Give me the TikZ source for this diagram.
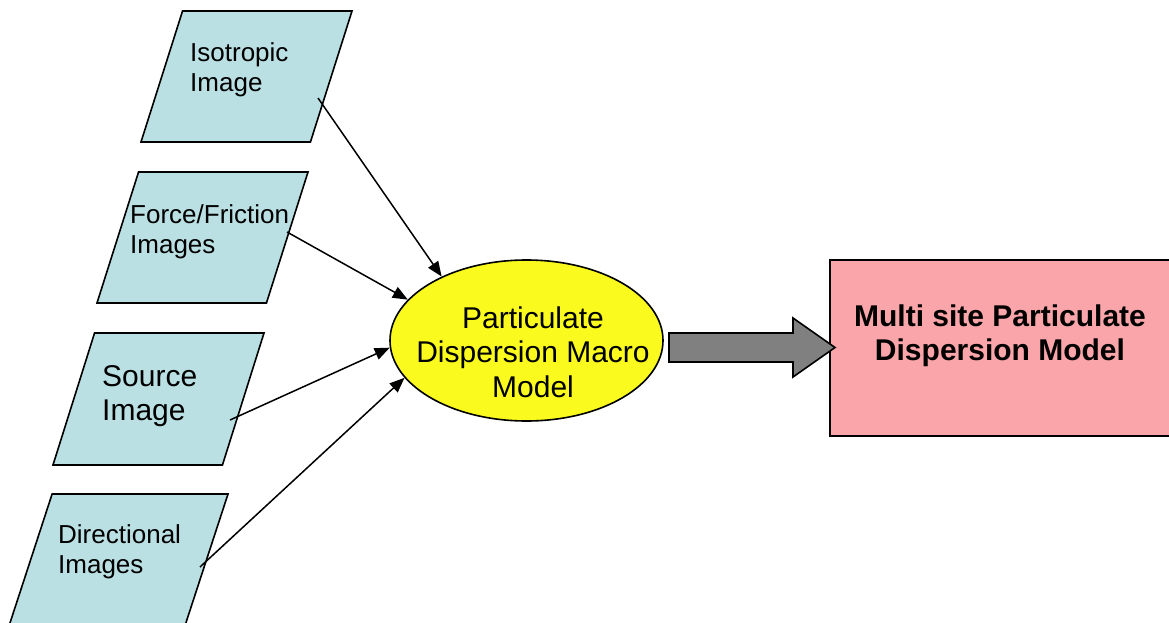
\documentclass[tikz,border=0pt]{standalone}
\usepackage{fontspec}
\setmainfont{Liberation Sans}
\usetikzlibrary{shapes.geometric,arrows.meta}
\definecolor{imgblue}{RGB}{186,224,227}
\definecolor{macroyellow}{RGB}{250,250,30}
\definecolor{modelpink}{RGB}{250,165,170}
\definecolor{flowgray}{RGB}{128,128,128}
\begin{document}
\begin{tikzpicture}[x=1pt,y=-1pt,
    input/.style={trapezium,trapezium left angle=72,trapezium right angle=108,
      trapezium stretches=true,draw,line width=1.6pt,fill=imgblue,inner sep=1pt,
      minimum width=211pt,minimum height=131pt},
    small/.style={font=\fontsize{26}{30}\selectfont,align=left,anchor=north west,inner sep=0pt},
    big/.style={font=\fontsize{30}{34.5}\selectfont,align=center,inner sep=0pt},
    feed/.style={line width=1.5pt,-{Triangle[length=15pt,width=12pt]}}]
  \useasboundingbox (0,0) rectangle (1169,623);
  \clip (0,0) rectangle (1169,623);
  % image inputs
  \node[input] (iso) at (246.5,76.5) {};
  \node[input] (force) at (202.5,237.5) {};
  \node[input,minimum height=132pt] (source) at (158.5,399) {};
  \node[input,minimum width=219pt,minimum height=132pt] (dir) at (118.5,560) {};
  \node[small] (isotxt) at (190,42) {Isotropic\\Image};
  \node[small] (forcetxt) at (130,204) {Force/Friction\\Images};
  \node[small,font=\fontsize{30}{34.5}\selectfont] (sourcetxt) at (102,365) {Source\\Image};
  \node[small] (dirtxt) at (58,524.5) {Directional\\Images};
  \coordinate (isoout) at (318,98);
  \coordinate (forceout) at (287,232);
  \coordinate (sourceout) at (230,420);
  \coordinate (dirout) at (200,567);
  % macro model
  \node[ellipse,draw,line width=1.6pt,fill=macroyellow,minimum width=273pt,
    minimum height=161pt,inner sep=0pt] (macro) at (526.5,340.5) {};
  \node[big] (macrotxt) at (533,352) {Particulate\\Dispersion Macro\\Model};
  % multi site model
  \node[draw,line width=1.6pt,fill=modelpink,minimum width=341pt,minimum height=176pt,
    inner sep=0pt,anchor=north west] (model) at (829,259) {};
  \node[big,font=\fontsize{30}{34.5}\selectfont\bfseries] (modeltxt) at (1000,335.5)
    {Multi site Particulate\\Dispersion Model};
  \draw[feed] (isoout) -- (macro.143);
  \draw[feed] (forceout) -- (macro.161.6);
  \draw[feed] (sourceout) -- (macro.183.3);
  \draw[feed] (dirout) -- (macro.197.8);
  % block arrow
  \coordinate (flowtail) at (669,347.5);
  \coordinate (flowtip) at (835,347.5);
  \draw[line width=1.6pt,fill=flowgray] (flowtail) ++(0,-14.5) -- ++(124,0) -- ++(0,-15)
    -- (flowtip) -- ++(-42,29.5) -- ++(0,-15) -- ++(-124,0) -- cycle;
\end{tikzpicture}
\end{document}
